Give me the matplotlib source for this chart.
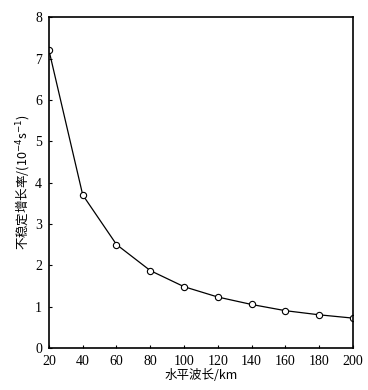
import matplotlib
matplotlib.use('Agg')
import matplotlib.pyplot as plt

wavelength = [20, 40, 60, 80, 100, 120, 140, 160, 180, 200]
growth_rate = [7.2, 3.7, 2.5, 1.87, 1.48, 1.23, 1.05, 0.9, 0.8, 0.72]
x_ticks = [20, 40, 60, 80, 100, 120, 140, 160, 180, 200]
y_ticks = [0, 1, 2, 3, 4, 5, 6, 7, 8]

plt.rcParams['font.family'] = ['Liberation Serif', 'Noto Sans CJK SC', 'DejaVu Sans']

fig = plt.figure(figsize=(3.68, 3.90), dpi=100)
ax = fig.add_axes([0.133, 0.108, 0.826, 0.848])
ax.plot(wavelength, growth_rate, color='black', linewidth=0.9, marker='o',
        markersize=4.5, markerfacecolor='white', markeredgecolor='black', markeredgewidth=0.8)

ax.set_xlim(20, 200)
ax.set_ylim(0, 8)
ax.set_xticks(x_ticks)
ax.set_yticks(y_ticks)
ax.tick_params(direction='in', length=2, labelsize=10)
ax.tick_params(axis='x', pad=5)
ax.tick_params(axis='y', pad=5)
for s in ax.spines.values():
    s.set_linewidth(1.2)

cjk = ['Noto Sans CJK SC', 'DejaVu Sans']
ax.set_xlabel('水平波长/km', family=cjk, fontsize=9, labelpad=1)
ax.set_ylabel('不稳定增长率/(10$^{-4}$s$^{-1}$)', family=cjk, fontsize=9, labelpad=3)

plt.savefig('out.png', dpi=100)
